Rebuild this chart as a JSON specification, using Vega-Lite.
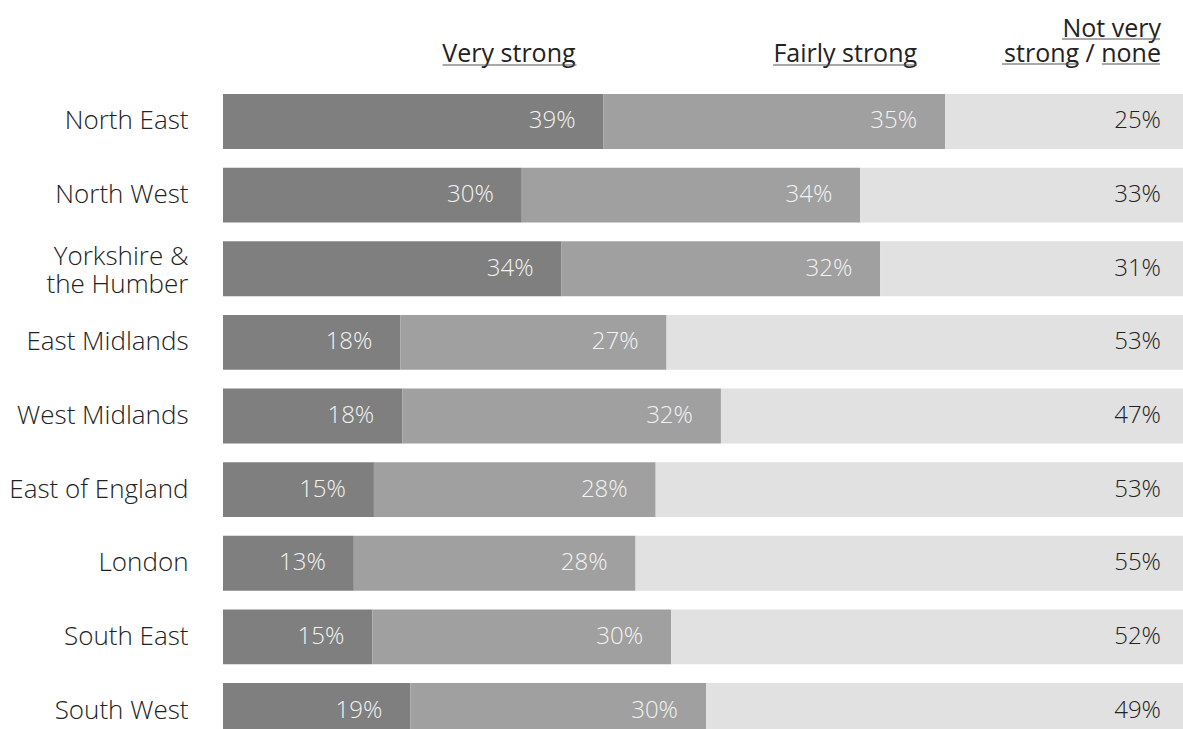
{
  "$schema": "https://vega.github.io/schema/vega-lite/v6.json",
  "autosize": {"type": "none"},
  "width": 960,
  "height": 635,
  "padding": {"left": 223, "top": 94, "right": 0, "bottom": 0},
  "background": "white",
  "config": {"view": {"stroke": null}, "font": "Open Sans"},
  "data": {
    "values": [
      {"region": "North East", "category": "Very strong", "order": 1, "value": 0.39, "head": "\nVery strong"},
      {"region": "North East", "category": "Fairly strong", "order": 2, "value": 0.35, "head": "\nFairly strong"},
      {"region": "North East", "category": "Not very strong / none", "order": 3, "value": 0.25, "head": "Not very\nstrong / none"},
      {"region": "North West", "category": "Very strong", "order": 1, "value": 0.30},
      {"region": "North West", "category": "Fairly strong", "order": 2, "value": 0.34},
      {"region": "North West", "category": "Not very strong / none", "order": 3, "value": 0.33},
      {"region": "Yorkshire & the Humber", "category": "Very strong", "order": 1, "value": 0.34},
      {"region": "Yorkshire & the Humber", "category": "Fairly strong", "order": 2, "value": 0.32},
      {"region": "Yorkshire & the Humber", "category": "Not very strong / none", "order": 3, "value": 0.31},
      {"region": "East Midlands", "category": "Very strong", "order": 1, "value": 0.18},
      {"region": "East Midlands", "category": "Fairly strong", "order": 2, "value": 0.27},
      {"region": "East Midlands", "category": "Not very strong / none", "order": 3, "value": 0.53},
      {"region": "West Midlands", "category": "Very strong", "order": 1, "value": 0.18},
      {"region": "West Midlands", "category": "Fairly strong", "order": 2, "value": 0.32},
      {"region": "West Midlands", "category": "Not very strong / none", "order": 3, "value": 0.47},
      {"region": "East of England", "category": "Very strong", "order": 1, "value": 0.15},
      {"region": "East of England", "category": "Fairly strong", "order": 2, "value": 0.28},
      {"region": "East of England", "category": "Not very strong / none", "order": 3, "value": 0.53},
      {"region": "London", "category": "Very strong", "order": 1, "value": 0.13},
      {"region": "London", "category": "Fairly strong", "order": 2, "value": 0.28},
      {"region": "London", "category": "Not very strong / none", "order": 3, "value": 0.55},
      {"region": "South East", "category": "Very strong", "order": 1, "value": 0.15},
      {"region": "South East", "category": "Fairly strong", "order": 2, "value": 0.30},
      {"region": "South East", "category": "Not very strong / none", "order": 3, "value": 0.52},
      {"region": "South West", "category": "Very strong", "order": 1, "value": 0.19},
      {"region": "South West", "category": "Fairly strong", "order": 2, "value": 0.30},
      {"region": "South West", "category": "Not very strong / none", "order": 3, "value": 0.49}
    ]
  },
  "transform": [
    {"stack": "value", "groupby": ["region"], "sort": [{"field": "order", "order": "ascending"}], "offset": "normalize", "as": ["x0", "x1"]}
  ],
  "encoding": {
    "y": {
      "field": "region",
      "type": "nominal",
      "sort": ["North East", "North West", "Yorkshire & the Humber", "East Midlands", "West Midlands", "East of England", "London", "South East", "South West"],
      "scale": {"range": [0, 644], "paddingInner": 0.253, "paddingOuter": 0},
      "axis": {
        "title": null,
        "domain": false,
        "ticks": false,
        "grid": false,
        "labelPadding": 35,
        "labelFont": "Open Sans",
        "labelFontSize": 26,
        "labelFontWeight": 300,
        "labelColor": "#222222",
        "labelLineHeight": 28,
        "labelLimit": 0,
        "labelOffset": {"condition": {"test": "datum.value == 'Yorkshire & the Humber'", "value": -12}, "value": 0},
        "labelExpr": "datum.value == 'Yorkshire & the Humber' ? ['Yorkshire &', 'the Humber'] : datum.value"
      }
    }
  },
  "layer": [
    {
      "mark": {"type": "bar", "clip": true},
      "encoding": {
        "x": {"field": "x0", "type": "quantitative", "scale": {"domain": [0, 1], "range": [0, 966]}, "axis": null},
        "x2": {"field": "x1"},
        "color": {
          "field": "category",
          "type": "nominal",
          "scale": {"domain": ["Very strong", "Fairly strong", "Not very strong / none"], "range": ["#7f7f7f", "#a0a0a0", "#e1e1e1"]},
          "legend": null
        }
      }
    },
    {
      "mark": {"type": "text", "align": "right", "baseline": "middle", "dx": -28, "font": "Open Sans", "fontSize": 24, "fontWeight": 300},
      "encoding": {
        "x": {"field": "x1", "type": "quantitative"},
        "text": {"field": "value", "type": "quantitative", "format": ".0%"},
        "color": {
          "condition": {"test": "datum.category == 'Not very strong / none'", "value": "#222222"},
          "value": "#f2f2f2"
        }
      }
    },
    {
      "transform": [{"filter": "datum.region == 'North East'"}],
      "mark": {"type": "text", "align": "right", "baseline": "alphabetic", "dx": -28, "dy": -84, "font": "Open Sans", "fontSize": 25, "fontWeight": 400, "lineBreak": "\n", "lineHeight": 25, "color": "#222222"},
      "encoding": {
        "x": {"field": "x1", "type": "quantitative"},
        "text": {"field": "head"}
      }
    },
    {
      "transform": [{"filter": "datum.region == 'North East' && datum.category == 'Very strong'"}],
      "mark": {"type": "rule", "color": "#555555", "strokeWidth": 1.2, "xOffset": -161, "x2Offset": -27, "yOffset": -56.5},
      "encoding": {
        "x": {"field": "x1", "type": "quantitative"},
        "x2": {"field": "x1"},
        "y": {"field": "region", "type": "nominal", "bandPosition": 0.5}
      }
    },
    {
      "transform": [{"filter": "datum.region == 'North East' && datum.category == 'Fairly strong'"}],
      "mark": {"type": "rule", "color": "#555555", "strokeWidth": 1.2, "xOffset": -172, "x2Offset": -28, "yOffset": -56.5},
      "encoding": {
        "x": {"field": "x1", "type": "quantitative"},
        "x2": {"field": "x1"},
        "y": {"field": "region", "type": "nominal", "bandPosition": 0.5}
      }
    },
    {
      "transform": [{"filter": "datum.region == 'North East' && datum.category == 'Not very strong / none'"}],
      "mark": {"type": "rule", "color": "#555555", "strokeWidth": 1.2, "xOffset": -127, "x2Offset": -29, "yOffset": -82.5},
      "encoding": {
        "x": {"field": "x1", "type": "quantitative"},
        "x2": {"field": "x1"},
        "y": {"field": "region", "type": "nominal", "bandPosition": 0.5}
      }
    },
    {
      "transform": [{"filter": "datum.region == 'North East' && datum.category == 'Not very strong / none'"}],
      "mark": {"type": "rule", "color": "#555555", "strokeWidth": 1.2, "xOffset": -187, "x2Offset": -110, "yOffset": -57.5},
      "encoding": {
        "x": {"field": "x1", "type": "quantitative"},
        "x2": {"field": "x1"},
        "y": {"field": "region", "type": "nominal", "bandPosition": 0.5}
      }
    },
    {
      "transform": [{"filter": "datum.region == 'North East' && datum.category == 'Not very strong / none'"}],
      "mark": {"type": "rule", "color": "#555555", "strokeWidth": 1.2, "xOffset": -87, "x2Offset": -29, "yOffset": -57.5},
      "encoding": {
        "x": {"field": "x1", "type": "quantitative"},
        "x2": {"field": "x1"},
        "y": {"field": "region", "type": "nominal", "bandPosition": 0.5}
      }
    }
  ]
}
